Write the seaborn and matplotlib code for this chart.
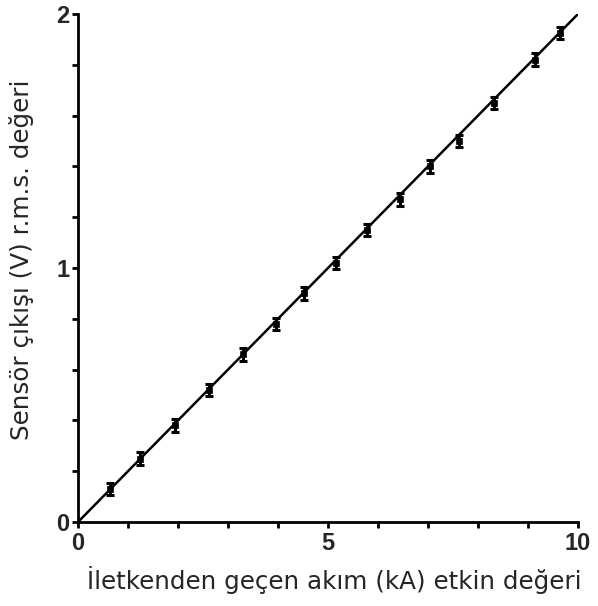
import matplotlib
matplotlib.use("Agg")
import matplotlib.pyplot as plt
import seaborn as sns
import numpy as np
import pandas as pd

# Data
current_kA = [0.64, 1.24, 1.94, 2.62, 3.30, 3.96, 4.52, 5.16, 5.78, 6.44, 7.04, 7.62, 8.32, 9.14, 9.64]
sensor_V = [0.13, 0.25, 0.38, 0.52, 0.66, 0.78, 0.90, 1.02, 1.15, 1.27, 1.40, 1.50, 1.65, 1.82, 1.925]
err_V = [0.025] * 15
fit_x = [0.0, 10.0]
fit_y = [0.0, 2.0]
x_ticks = [0, 5, 10]
y_ticks = [0, 1, 2]
xlabel = "İletkenden geçen akım (kA) etkin değeri"
ylabel = "Sensör çıkışı (V) r.m.s. değeri"

sns.set_style("ticks")
plt.rcParams['font.family'] = ['DejaVu Sans']

fig = plt.figure(figsize=(5.98, 6.06), dpi=100)
ax = fig.add_axes([78/598, 1 - 522/606, 500/598, 508/606])

df_fit = pd.DataFrame({"x": fit_x, "y": fit_y})
sns.lineplot(data=df_fit, x="x", y="y", ax=ax, color="black", linewidth=1.8)

df = pd.DataFrame({"x": current_kA, "y": sensor_V, "e": err_V})
ax.errorbar(df["x"], df["y"], yerr=df["e"], fmt="none", ecolor="black",
            elinewidth=2.2, capsize=3, capthick=2.2)
sns.scatterplot(data=df, x="x", y="y", ax=ax, color="black", marker="s", s=18,
                edgecolor="black", linewidth=0.5, zorder=5)

ax.set_xlim(0, 10)
ax.set_ylim(0, 2)
ax.set_xticks(x_ticks)
ax.set_yticks(y_ticks)
ax.set_xticks(np.arange(0, 10.01, 1), minor=True)
ax.set_yticks(np.arange(0, 2.01, 0.2), minor=True)
tick_fam = ["Liberation Sans Narrow", "Liberation Sans", "DejaVu Sans"]
ax.set_xticklabels([str(t) for t in x_ticks], fontsize=17, fontweight="bold", family=tick_fam)
ax.set_yticklabels([str(t) for t in y_ticks], fontsize=17, fontweight="bold", family=tick_fam)
ax.tick_params(axis="both", which="both", direction="out", length=4, width=2, color="black", pad=2)
ax.tick_params(axis="x", which="major", pad=3)

for s in ["top", "right"]:
    ax.spines[s].set_visible(False)
for s in ["left", "bottom"]:
    ax.spines[s].set_linewidth(2.0)
    ax.spines[s].set_color("black")

ax.set_xlabel(xlabel, fontsize=17.7, va="center")
ax.set_ylabel(ylabel, fontsize=17.7, va="center")
ax.xaxis.set_label_coords(0.512, -0.114)
ax.yaxis.set_label_coords(-0.112, 0.516)

fig.savefig("out.png", dpi=100)
